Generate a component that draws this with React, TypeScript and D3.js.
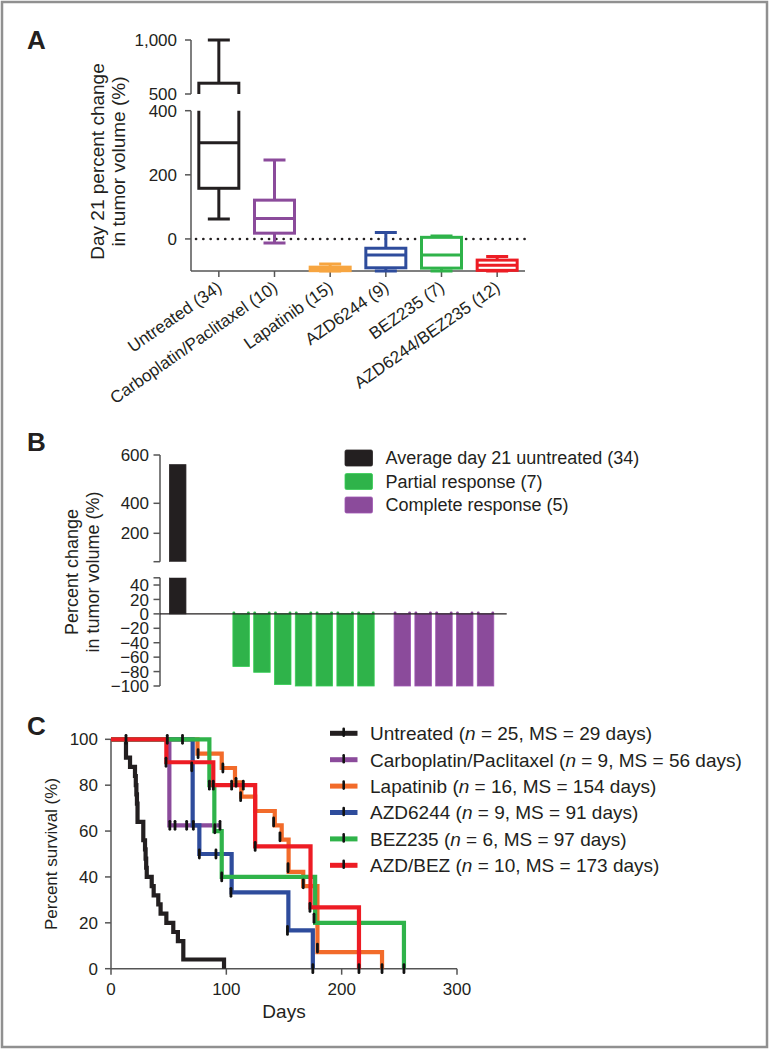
import React from "react";
import * as d3 from "d3";

const FONT = "'Liberation Sans', Arial, Helvetica, sans-serif";
const INK = "#231f20";
const AXIS = "#555";

// ---------- Panel A data ----------
const catsA = [
  "Untreated (34)",
  "Carboplatin/Paclitaxel (10)",
  "Lapatinib (15)",
  "AZD6244 (9)",
  "BEZ235 (7)",
  "AZD6244/BEZ235 (12)",
];
const minA = [62, -13, -100, -100, -100, -100];
const q1A = [158, 18, -99, -90, -91, -98];
const medA = [300, 64, -95, -50, -50, -82];
const q3A = [600, 121, -88, -29, 5, -66];
const maxA = [1000, 246, -78, 20, 9, -55];
const colorsA = ["#231f20", "#8b4b9b", "#f7a540", "#2e4c9c", "#2fb34a", "#ed1c24"];
const ticksAlow = [0, 200, 400];
const ticksAup = [500, 1000];

// ---------- Panel B data ----------
const avgUntreated = [560];
const partialResp = [-73, -81, -98, -100, -100, -100, -100];
const completeResp = [-100, -100, -100, -100, -100];
const legendB = ["Average day 21 uuntreated (34)", "Partial response (7)", "Complete response (5)"];
const colorsB = ["#231f20", "#2fb34a", "#8b4b9b"];
const ticksBup = [200, 400, 600];
const ticksBlow = [-100, -80, -60, -40, -20, 0, 20, 40];

// ---------- Panel C data ----------
const kmNames = ["Untreated", "Carboplatin/Paclitaxel", "Lapatinib", "AZD6244", "BEZ235", "AZD/BEZ"];
const kmN = [25, 9, 16, 9, 6, 10];
const kmMS = [29, 56, 154, 91, 97, 173];
const kmColors = ["#231f20", "#8b4b9b", "#f26b2a", "#2e4c9c", "#2fb34a", "#ed1c24"];

const untreatedT = [0, 13, 16.5, 20.8, 21.5, 22, 22.5, 23, 28, 29.5, 30, 30.5, 31, 35.3, 37, 41, 43, 48, 54, 58, 62.7, 98];
const untreatedS = [100, 92, 88, 84, 80, 76, 72, 64, 56, 52, 48, 44, 40, 36, 32, 28, 24, 20, 16, 12, 4, 0];
const untreatedCT = [13];
const untreatedCS = [100];

const carboT = [0, 50.6, 95];
const carboS = [100, 62.5, 62.5];
const carboCT = [48.8, 51, 55.5, 65.6, 71.4, 94.5];
const carboCS = [100, 62.5, 62.5, 62.5, 62.5, 62.5];

const lapT = [0, 75, 96, 107.5, 113, 125, 142, 148, 154, 166.7, 179, 235];
const lapS = [100, 93.75, 87.5, 81.25, 75, 68.75, 62.5, 56.25, 42.2, 36, 7.2, 0];
const lapCT = [75.5, 97, 108.4, 112.4, 141, 146.5, 153.5, 166.7, 179, 235];
const lapCS = [93.75, 87.5, 81.25, 75, 64, 57.5, 44, 37, 9, 0];

const azdT = [0, 70.8, 76.6, 104.6, 153.8, 175];
const azdS = [100, 62.5, 50, 33.3, 16.7, 0];
const azdCT = [70, 76.6, 91, 104, 153, 175];
const azdCS = [88, 50, 50, 33.3, 16.7, 0];

const bezT = [0, 85.3, 89.6, 96, 177, 254];
const bezS = [100, 80, 60, 40, 20, 0];
const bezCT = [62, 85.3, 90, 96, 176, 254];
const bezCS = [100, 80, 61, 40, 22, 0];

const comboT = [0, 48, 88.7, 125, 173, 215];
const comboS = [100, 90, 80, 53.3, 26.7, 0];
const comboCT = [47.7, 88.7, 104.6, 114.7, 125, 172.5, 215];
const comboCS = [90, 80, 80, 80, 53.3, 26.7, 0];

const kmTimes = [untreatedT, carboT, lapT, azdT, bezT, comboT];
const kmSurv = [untreatedS, carboS, lapS, azdS, bezS, comboS];
const kmCensT = [untreatedCT, carboCT, lapCT, azdCT, bezCT, comboCT];
const kmCensS = [untreatedCS, carboCS, lapCS, azdCS, bezCS, comboCS];
const ticksCx = [0, 100, 200, 300];
const ticksCy = [0, 20, 40, 60, 80, 100];

export default function App() {
  // ----- Panel A scales -----
  const xA = d3.scaleBand<string>().domain(catsA).range([191, 525]);
  const yAl = d3.scaleLinear().domain([-100, 400]).range([271, 110.7]);
  const yAu = d3.scaleLinear().domain([500, 1000]).range([94, 40]);
  const fmtA = d3.format(",");
  const boxW = 40;
  const capW = 22;

  const renderBoxes = (s: d3.ScaleLinear<number, number>, clip: string) => (
    <g clipPath={`url(#${clip})`}>
      {catsA.map((c, i) => {
        const cx = (xA(c) as number) + xA.bandwidth() / 2;
        const col = colorsA[i];
        return (
          <g key={c} stroke={col} strokeWidth={3} fill="none">
            <line x1={cx} x2={cx} y1={s(maxA[i])} y2={s(q3A[i])} />
            <line x1={cx - capW / 2} x2={cx + capW / 2} y1={s(maxA[i])} y2={s(maxA[i])} />
            <line x1={cx} x2={cx} y1={s(q1A[i])} y2={s(minA[i])} />
            <line x1={cx - capW / 2} x2={cx + capW / 2} y1={s(minA[i])} y2={s(minA[i])} />
            <rect x={cx - boxW / 2} width={boxW} y={s(q3A[i])} height={s(q1A[i]) - s(q3A[i])} fill="#fff" />
            <line x1={cx - boxW / 2} x2={cx + boxW / 2} y1={s(medA[i])} y2={s(medA[i])} />
          </g>
        );
      })}
    </g>
  );

  // ----- Panel B scales -----
  const slot = d3.scaleLinear().domain([0, 1]).range([177.7, 198.5]);
  const yBl = d3.scaleLinear().domain([-100, 50]).range([686, 577.8]);
  const yBu = d3.scaleLinear().domain([50, 200, 400, 600]).range([561.7, 533.3, 503.3, 455]);
  const fmtB = d3.format("d");
  const barW = 16.5;
  const barsB: { v: number; s: number; c: string }[] = [
    ...avgUntreated.map((v, i) => ({ v, s: i, c: colorsB[0] })),
    ...partialResp.map((v, i) => ({ v, s: 3.05 + i, c: colorsB[1] })),
    ...completeResp.map((v, i) => ({ v, s: 10.8 + i, c: colorsB[2] })),
  ];

  // ----- Panel C scales -----
  const xC = d3.scaleLinear().domain([0, 300]).range([111, 457]);
  const yC = d3.scaleLinear().domain([0, 100]).range([968.7, 739.3]);
  const lineC = d3
    .line<[number, number]>()
    .x((d) => xC(d[0]))
    .y((d) => yC(d[1]))
    .curve(d3.curveStepAfter);

  return (
    <svg
      width={770}
      height={1050}
      style={{ position: "absolute", left: 0, top: 0, background: "#fff" }}
      fontFamily={FONT}
      fill={INK}
    >
      <defs>
        <clipPath id="clipAlo">
          <rect x={150} y={110.7} width={400} height={170} />
        </clipPath>
        <clipPath id="clipAup">
          <rect x={150} y={30} width={400} height={64} />
        </clipPath>
        <clipPath id="clipBlo">
          <rect x={150} y={577.8} width={400} height={120} />
        </clipPath>
        <clipPath id="clipBup">
          <rect x={150} y={440} width={400} height={121.7} />
        </clipPath>
      </defs>
      <rect x={2} y={2} width={765} height={1045} fill="#fff" stroke="#909090" strokeWidth={2.5} />

      {/* ================= Panel A ================= */}
      <text x={27} y={49} fontSize={26} fontWeight="bold">A</text>
      <g fontSize={19} textAnchor="middle">
        <text transform="translate(104,161.5) rotate(-90)">Day 21 percent change</text>
        <text transform="translate(125,161.5) rotate(-90)">in tumor volume (%)</text>
      </g>
      {/* y axis */}
      <g stroke={AXIS} strokeWidth={1.5}>
        <line x1={191} x2={191} y1={yAu(1000)} y2={yAu(500)} />
        <line x1={191} x2={191} y1={yAl(400)} y2={yAl(-100)} />
        <line x1={191} x2={525} y1={yAl(-100)} y2={yAl(-100)} />
        {ticksAup.map((t) => (
          <line key={"u" + t} x1={185} x2={191} y1={yAu(t)} y2={yAu(t)} />
        ))}
        {ticksAlow.map((t) => (
          <line key={"l" + t} x1={185} x2={191} y1={yAl(t)} y2={yAl(t)} />
        ))}
        {catsA.map((c) => {
          const cx = (xA(c) as number) + xA.bandwidth() / 2;
          return <line key={c} x1={cx} x2={cx} y1={yAl(-100)} y2={yAl(-100) + 6} />;
        })}
      </g>
      <g fontSize={17} textAnchor="end">
        {ticksAup.map((t) => (
          <text key={t} x={177} y={yAu(t)} dy="0.36em">{fmtA(t)}</text>
        ))}
        {ticksAlow.map((t) => (
          <text key={t} x={177} y={yAl(t)} dy="0.36em">{fmtA(t)}</text>
        ))}
      </g>
      {/* dotted zero line */}
      <line
        x1={196}
        x2={525}
        y1={yAl(0)}
        y2={yAl(0)}
        stroke={INK}
        strokeWidth={2.6}
        strokeLinecap="round"
        strokeDasharray="0.1 7.2"
      />
      {renderBoxes(yAl, "clipAlo")}
      {renderBoxes(yAu, "clipAup")}
      <g fontSize={17} textAnchor="end">
        {catsA.map((c) => {
          const cx = (xA(c) as number) + xA.bandwidth() / 2;
          return (
            <text key={c} transform={`translate(${cx - 3},${yAl(-100) + 9}) rotate(-35)`} dy="0.72em">
              {c}
            </text>
          );
        })}
      </g>

      {/* ================= Panel B ================= */}
      <text x={27} y={451} fontSize={26} fontWeight="bold">B</text>
      <g fontSize={18} textAnchor="middle">
        <text transform="translate(78,572) rotate(-90)">Percent change</text>
        <text transform="translate(99,572) rotate(-90)">in tumor volume (%)</text>
      </g>
      <g stroke={AXIS} strokeWidth={1.5}>
        <line x1={160} x2={160} y1={yBu(600)} y2={yBu(50)} />
        <line x1={160} x2={160} y1={yBl(50)} y2={yBl(-100)} />
        {[...ticksBup, 50].map((t) => (
          <line key={"u" + t} x1={153.5} x2={160} y1={yBu(t)} y2={yBu(t)} />
        ))}
        {[...ticksBlow, 50].map((t) => (
          <line key={"l" + t} x1={153.5} x2={160} y1={yBl(t)} y2={yBl(t)} />
        ))}
      </g>
      <g fontSize={17} textAnchor="end">
        {ticksBup.map((t) => (
          <text key={t} x={149} y={yBu(t)} dy="0.36em">{fmtB(t)}</text>
        ))}
        {ticksBlow.map((t) => (
          <text key={t} x={149} y={yBl(t)} dy="0.36em">{fmtB(t)}</text>
        ))}
      </g>
      {[
        { s: yBl, clip: "clipBlo" },
        { s: yBu, clip: "clipBup" },
      ].map(({ s, clip }) => (
        <g key={clip} clipPath={`url(#${clip})`}>
          {barsB.map((b, i) => {
            const y0 = s(0);
            const y1 = s(b.v);
            return (
              <rect
                key={i}
                x={slot(b.s) - barW / 2}
                width={barW}
                y={Math.min(y0, y1)}
                height={Math.abs(y1 - y0)}
                fill={b.c}
                stroke={d3.color(b.c)!.brighter(0.4).formatHex()}
                strokeWidth={0.8}
              />
            );
          })}
        </g>
      ))}
      {barsB
        .filter((b) => b.v < 0)
        .map((b, i) => (
          <g key={i} fill={b.c}>
            <circle cx={slot(b.s) - barW / 2 + 1} cy={yBl(0) - 1} r={1.4} />
            <circle cx={slot(b.s) + barW / 2 - 1} cy={yBl(0) - 1} r={1.4} />
          </g>
        ))}
      <line x1={160} x2={506.7} y1={yBl(0)} y2={yBl(0)} stroke={INK} strokeWidth={1.3} />
      <g fontSize={18}>
        {legendB.map((l, i) => (
          <g key={l}>
            <rect
              x={345}
              y={450 + i * 23.5}
              width={27.5}
              height={16}
              rx={1.5}
              fill={colorsB[i]}
              stroke={d3.color(colorsB[i])!.brighter(0.4).formatHex()}
              strokeWidth={0.8}
            />
            <text x={385.5} y={458 + i * 23.5} dy="0.36em">{l}</text>
          </g>
        ))}
      </g>

      {/* ================= Panel C ================= */}
      <text x={27} y={735} fontSize={26} fontWeight="bold">C</text>
      <text transform="translate(57,854) rotate(-90)" fontSize={17} textAnchor="middle">
        Percent survival (%)
      </text>
      <text x={284} y={1018} fontSize={19} textAnchor="middle">Days</text>
      <g stroke={AXIS} strokeWidth={1.5}>
        <line x1={xC(0)} x2={xC(0)} y1={yC(100)} y2={yC(0)} />
        <line x1={xC(0)} x2={xC(300)} y1={yC(0)} y2={yC(0)} />
        {ticksCy.map((t) => (
          <line key={t} x1={xC(0) - 6} x2={xC(0)} y1={yC(t)} y2={yC(t)} />
        ))}
        {ticksCx.map((t) => (
          <line key={t} x1={xC(t)} x2={xC(t)} y1={yC(0)} y2={yC(0) + 6} />
        ))}
      </g>
      <g fontSize={17} textAnchor="end">
        {ticksCy.map((t) => (
          <text key={t} x={98} y={yC(t)} dy="0.36em">{t}</text>
        ))}
      </g>
      <g fontSize={17} textAnchor="middle">
        {ticksCx.map((t) => (
          <text key={t} x={xC(t)} y={995}>{t}</text>
        ))}
      </g>
      {kmTimes.map((ts, k) => {
        const pts = ts.map((t, j) => [t, kmSurv[k][j]] as [number, number]);
        return (
          <path
            key={k}
            d={lineC(pts) || ""}
            fill="none"
            stroke={kmColors[k]}
            strokeWidth={4.2}
            strokeLinejoin="miter"
          />
        );
      })}
      <g stroke="#111" strokeWidth={2.8} strokeLinecap="round">
        {kmCensT.map((cts, k) =>
          cts.map((t, j) => (
            <line
              key={k + "-" + j}
              x1={xC(t)}
              x2={xC(t)}
              y1={yC(kmCensS[k][j]) - 4}
              y2={yC(kmCensS[k][j]) + 4}
            />
          ))
        )}
      </g>
      <g fontSize={19}>
        {kmNames.map((nm, k) => {
          const cy = 733.3 + k * 26.4;
          return (
            <g key={nm}>
              <line x1={330} x2={357.5} y1={cy} y2={cy} stroke={kmColors[k]} strokeWidth={5} />
              <line x1={343.7} x2={343.7} y1={cy - 4.5} y2={cy + 2.5} stroke="#111" strokeWidth={2.6} strokeLinecap="round" />
              <text x={370} y={cy} dy="0.36em">
                {nm} (<tspan fontStyle="italic">n</tspan> = {kmN[k]}, MS = {kmMS[k]} days)
              </text>
            </g>
          );
        })}
      </g>
    </svg>
  );
}
